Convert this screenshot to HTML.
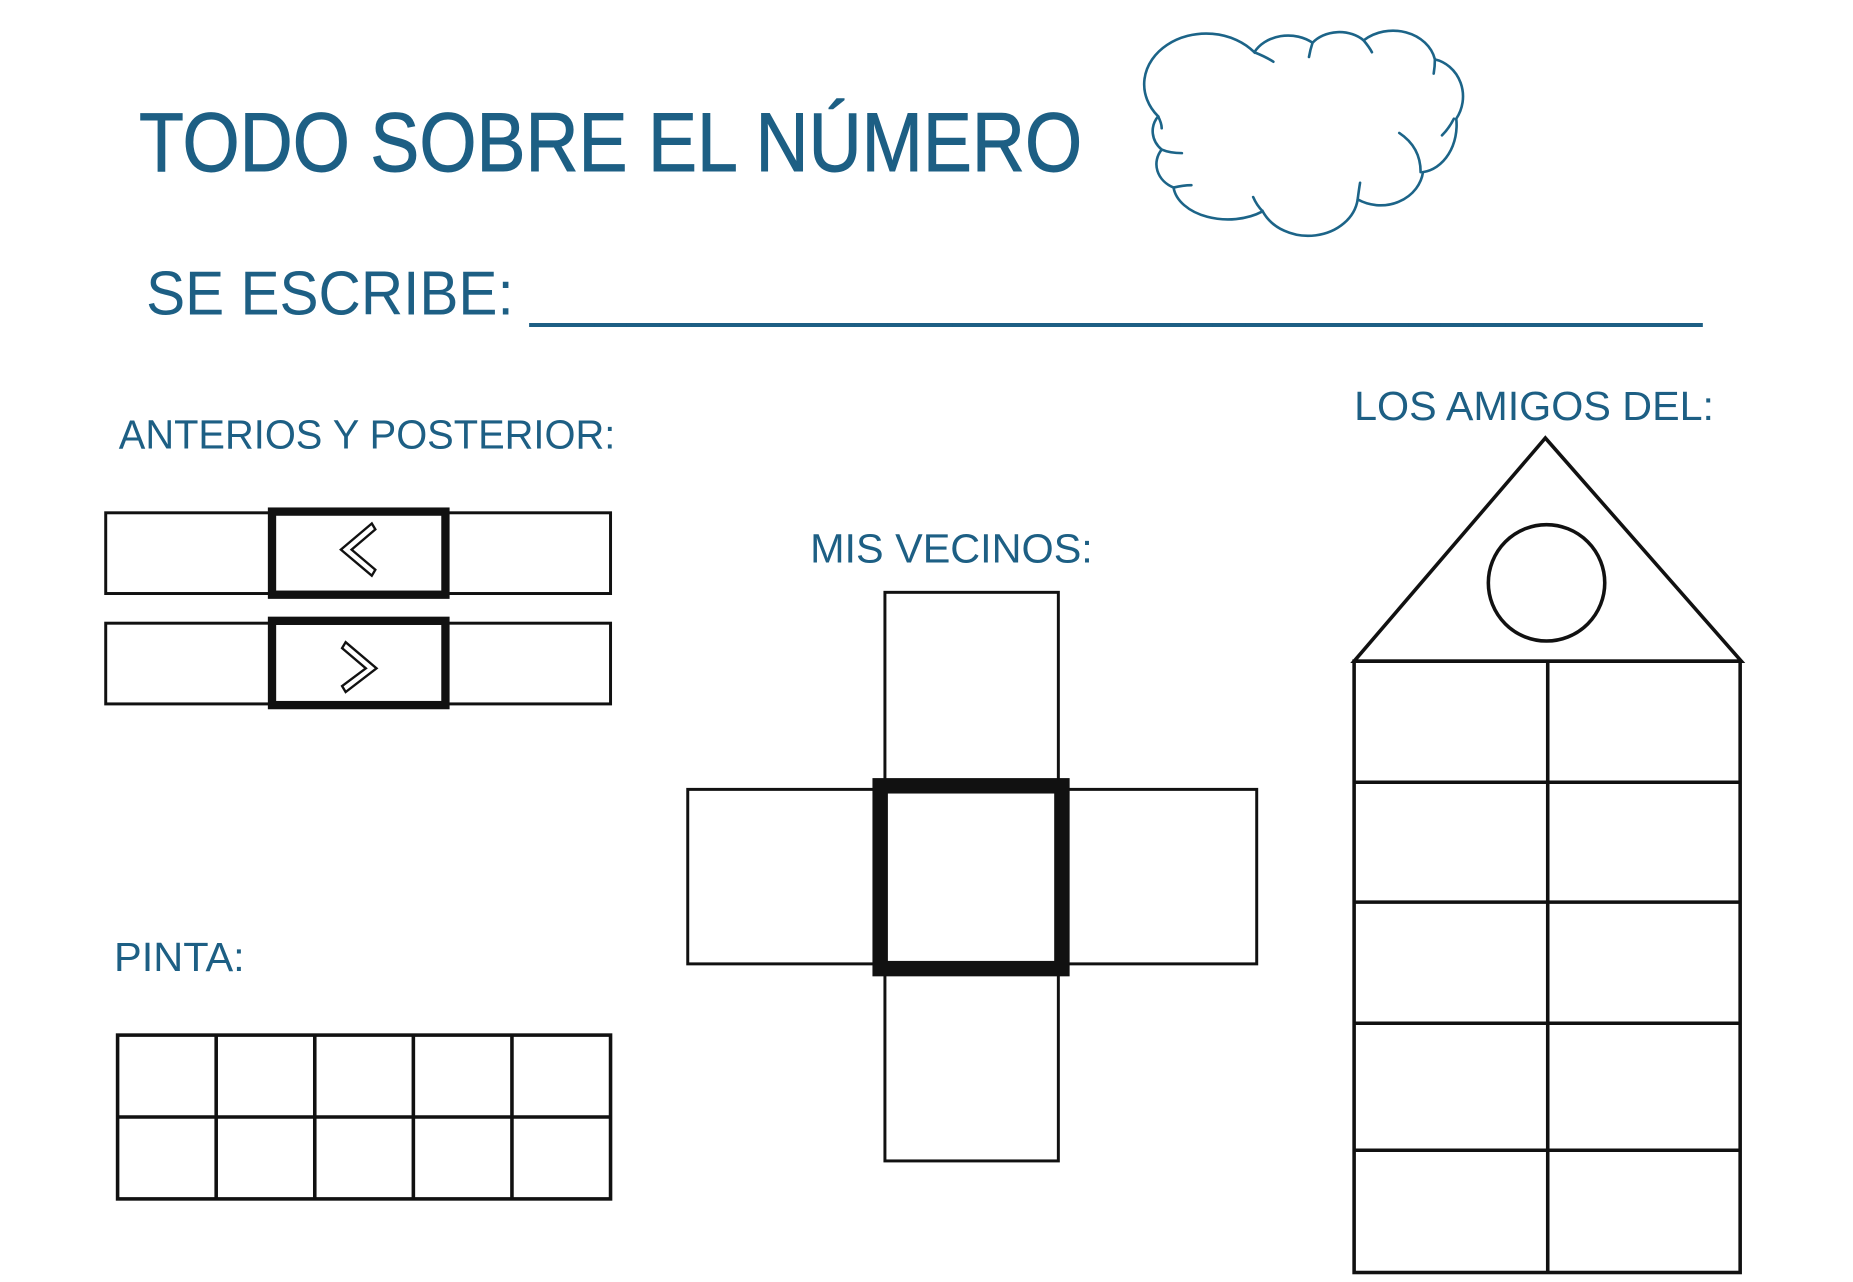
<!DOCTYPE html>
<html><head><meta charset="utf-8"><style>
html,body{margin:0;padding:0;background:#fff;}
svg{display:block;}
text{font-family:"Liberation Sans",sans-serif;fill:#1d5f84;}
</style></head><body>
<svg width="1853" height="1282" viewBox="0 0 1560 1080" preserveAspectRatio="none" xmlns="http://www.w3.org/2000/svg">
<rect width="1560" height="1080" fill="#fff"/>
<text x="117" y="144" font-size="70" textLength="794" lengthAdjust="spacingAndGlyphs" stroke="#1d5f84" stroke-width="0.8">TODO SOBRE EL NÚMERO</text>
<g fill="none" stroke="#1c6488" stroke-width="2.2" stroke-linecap="round">
<path d="M975 98 A44 36 0 0 1 1056 44 A32 26 0 0 1 1105 36 A28 22 0 0 1 1148 34 A36 30 0 0 1 1208 50 A30 32 0 0 1 1226 100 A32 40 0 0 1 1198 145 A36 32 0 0 1 1143 168 A42 35 0 0 1 1063 178 A46 30 0 0 1 988 158 A26 22 0 0 1 978 126 A26 22 0 0 1 975 98 Z"/>
<path d="M1056 44 Q1066 48 1072 52"/>
<path d="M1105 36 Q1103 42 1102 48"/>
<path d="M1148 34 Q1153 40 1155 44"/>
<path d="M1208 50 Q1208 56 1207 62"/>
<path d="M1224 100 Q1220 108 1214 114"/>
<path d="M1196 145 Q1196 124 1178 112"/>
<path d="M1143 168 Q1144 160 1145 154"/>
<path d="M1063 178 Q1058 173 1055 166"/>
<path d="M988 158 Q996 156 1003 156"/>
<path d="M978 126 Q985 129 995 129"/>
<path d="M975 98 Q978 104 978 108"/>
</g>
<text x="123" y="265" font-size="52" textLength="1310" lengthAdjust="spacingAndGlyphs">SE ESCRIBE: ____________________________________</text>
<text x="100" y="378" font-size="34" textLength="418" lengthAdjust="spacingAndGlyphs">ANTERIOS Y POSTERIOR:</text>
<text x="682" y="474" font-size="34" textLength="238" lengthAdjust="spacingAndGlyphs">MIS VECINOS:</text>
<text x="1140" y="354" font-size="34" textLength="303" lengthAdjust="spacingAndGlyphs">LOS AMIGOS DEL:</text>
<text x="96" y="818" font-size="34" textLength="110" lengthAdjust="spacingAndGlyphs">PINTA:</text>
<g fill="none" stroke="#111" stroke-width="2.5">
<rect x="89" y="432" width="425" height="68"/>
<rect x="89" y="525" width="425" height="68"/>
<rect x="229" y="431" width="146" height="70" stroke-width="7"/>
<rect x="229" y="523" width="146" height="71" stroke-width="7"/>
<path d="M313 441 L287 463 L313 485 L316 480 L296 463 L316 446 Z" stroke-width="2"/>
<path d="M291 541 L317 563 L291 583 L288 578 L308 563 L288 546 Z" stroke-width="2"/>
<rect x="745" y="499" width="146" height="479"/>
<rect x="579" y="665" width="479" height="147"/>
<rect x="741" y="662" width="153" height="154" stroke-width="13"/>
<path d="M1140 557 L1301 369 L1466 557 Z" stroke-width="3"/>
<circle cx="1302" cy="491" r="49" stroke-width="3"/>
<rect x="1140" y="557" width="325" height="515" stroke-width="3"/>
<path d="M1303 557 V1072 M1140 659 H1465 M1140 760 H1465 M1140 862 H1465 M1140 969 H1465" stroke-width="3"/>
<rect x="99" y="872" width="415" height="138" stroke-width="3"/>
<path d="M182 872 V1010 M265 872 V1010 M348 872 V1010 M431 872 V1010 M99 941 H514" stroke-width="3"/>
</g>
</svg>
</body></html>
